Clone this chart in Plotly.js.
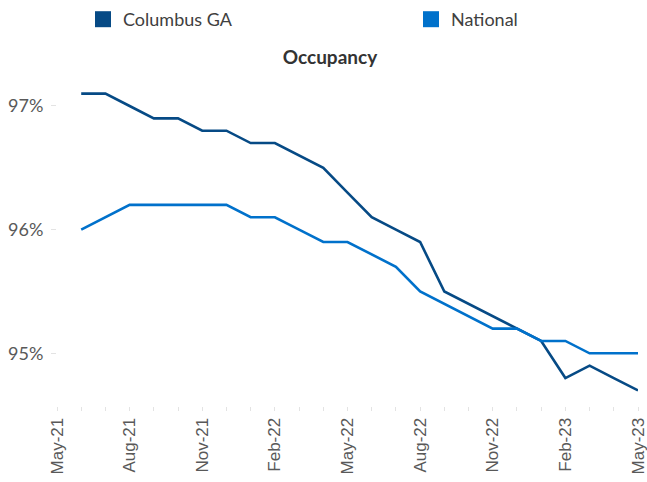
<!DOCTYPE html>
<html>
<head>
<meta charset="utf-8">
<script src="https://cdn.plot.ly/plotly-3.0.1.min.js"></script>
<style>html,body{margin:0;padding:0;background:#fff;}#chart{width:647px;height:482px;}</style>
</head>
<body>
<div id="chart"></div>
<script>
// Axis categories (monthly)
var months = ['May-21','Jun-21','Jul-21','Aug-21','Sep-21','Oct-21','Nov-21','Dec-21',
  'Jan-22','Feb-22','Mar-22','Apr-22','May-22','Jun-22','Jul-22','Aug-22','Sep-22','Oct-22','Nov-22','Dec-22',
  'Jan-23','Feb-23','Mar-23','Apr-23','May-23'];
var labeledMonths = ['May-21','Aug-21','Nov-21','Feb-22','May-22','Aug-22','Nov-22','Feb-23','May-23'];
var dataMonths = months.slice(1);

// Occupancy (%)
var columbusGA = [97.1,97.1,97.0,96.9,96.9,96.8,96.8,
  96.7,96.7,96.6,96.5,96.3,96.1,96.0,95.9,95.5,95.4,95.3,95.2,
  95.1,94.8,94.9,94.8,94.7];
var national = [96.0,96.1,96.2,96.2,96.2,96.2,96.2,
  96.1,96.1,96.0,95.9,95.9,95.8,95.7,95.5,95.4,95.3,95.2,95.2,
  95.1,95.1,95.0,95.0,95.0];

var yTicks = [95, 96, 97];
var yTickText = ['95%', '96%', '97%'];

var cColumbus = '#064A85';
var cNational = '#0071CB';

var traces = [
  {x: dataMonths, y: columbusGA, type: 'scatter', mode: 'lines', name: 'Columbus GA',
   line: {color: cColumbus, width: 2.6}, showlegend: false, hoverinfo: 'skip'},
  {x: dataMonths, y: national, type: 'scatter', mode: 'lines', name: 'National',
   line: {color: cNational, width: 2.6}, showlegend: false, hoverinfo: 'skip'},
  {x: [null], y: [null], type: 'scatter', mode: 'markers', name: 'Columbus GA', legend: 'legend',
   marker: {symbol: 'square', size: 16, color: cColumbus}},
  {x: [null], y: [null], type: 'scatter', mode: 'markers', name: 'National', legend: 'legend2',
   marker: {symbol: 'square', size: 16, color: cNational}}
];

var legendFont = {family: 'Lato, sans-serif', size: 18, color: '#404040'};

var layout = {
  width: 647, height: 482,
  margin: {l: 57, r: 9, t: 80, b: 76},
  paper_bgcolor: '#fff', plot_bgcolor: '#fff',
  font: {family: 'Lato, "Open Sans", sans-serif', color: '#595959'},
  title: {text: '<b>Occupancy</b>', font: {family: 'Lato, sans-serif', size: 19, color: '#333333'},
          xref: 'container', yref: 'container', x: 0.51, xanchor: 'center', y: 1 - 57/482, yanchor: 'middle'},
  showlegend: true,
  legend: {orientation: 'h', xref: 'container', yref: 'container', x: 83/647, xanchor: 'left',
           y: 1 - 1/482, yanchor: 'top', itemwidth: 30, font: legendFont, itemclick: false},
  legend2: {orientation: 'h', xref: 'container', yref: 'container', x: 411/647, xanchor: 'left',
           y: 1 - 1/482, yanchor: 'top', itemwidth: 30, font: legendFont, itemclick: false},
  xaxis: {
    type: 'category', categoryorder: 'array', categoryarray: months,
    range: [0, months.length - 1],
    tickmode: 'array', tickvals: months,
    ticktext: months.map(function(m){ return labeledMonths.indexOf(m) >= 0 ? m : ''; }),
    tickangle: -90, ticks: 'outside', ticklen: 4, tickcolor: '#e3e3e3', tickwidth: 1,
    tickfont: {family: '"Liberation Sans", Arial, sans-serif', size: 17, color: '#595959'},
    showgrid: false, zeroline: false, showline: false, fixedrange: true
  },
  yaxis: {
    range: [94.574, 97.21], tickmode: 'array', tickvals: yTicks, ticktext: yTickText,
    ticks: 'outside', ticklen: 5, tickcolor: '#e3e3e3',
    tickfont: {family: 'Lato, sans-serif', size: 18, color: '#595959'},
    ticklabelstandoff: 4,
    showgrid: false, zeroline: false, showline: false, fixedrange: true
  }
};

Plotly.newPlot('chart', traces, layout, {displayModeBar: false, staticPlot: true});
</script>
</body>
</html>
